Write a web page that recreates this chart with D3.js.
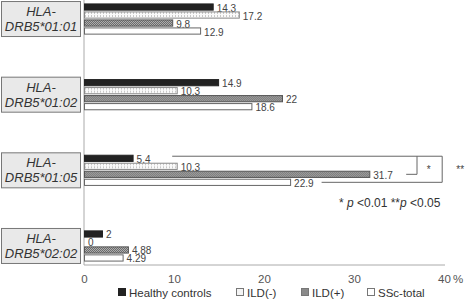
<!DOCTYPE html>
<html>
<head>
<meta charset="utf-8">
<script src="https://cdn.jsdelivr.net/npm/d3@7"></script>
<style>
  body { margin: 0; background: #fff; }
  svg { font-family: "Liberation Sans", Arial, sans-serif; }
  .val { font-size: 10px; fill: #444; }
  .axis text { font-size: 11.5px; fill: #555; }
  .cat { font-size: 13px; font-style: italic; fill: #333; }
  .legend text { font-size: 11.5px; fill: #333; }
</style>
</head>
<body>
<script>
const alleles = ["DRB5*01:01", "DRB5*01:02", "DRB5*01:05", "DRB5*02:02"];
const series = ["Healthy controls", "ILD(-)", "ILD(+)", "SSc-total"];
const healthy = [14.3, 14.9, 5.4, 2];
const ildNeg = [17.2, 10.3, 10.3, 0];
const ildPos = [9.8, 22, 31.7, 4.88];
const sscTotal = [12.9, 18.6, 22.9, 4.29];
const valueLabels = [
  ["14.3", "14.9", "5.4", "2"],
  ["17.2", "10.3", "10.3", "0"],
  ["9.8", "22", "31.7", "4.88"],
  ["12.9", "18.6", "22.9", "4.29"]
];
const ticks = [0, 10, 20, 30, 40];

const width = 469;
const height = 299;

const svg = d3.select("body")
  .append("svg")
  .attr("width", width)
  .attr("height", height);

const defs = svg.append("defs");

// ILD(-): light vertical hatching
const pNeg = defs.append("pattern")
  .attr("id", "p-neg")
  .attr("width", 3).attr("height", 3)
  .attr("patternUnits", "userSpaceOnUse");
pNeg.append("rect").attr("width", 3).attr("height", 3).attr("fill", "#fafafa");
pNeg.append("rect").attr("x", 1).attr("width", 1).attr("height", 2).attr("fill", "#c8c8c8");

// ILD(+): grey dotted texture
const pPos = defs.append("pattern")
  .attr("id", "p-pos")
  .attr("width", 2).attr("height", 2)
  .attr("patternUnits", "userSpaceOnUse");
pPos.append("rect").attr("width", 2).attr("height", 2).attr("fill", "#b0b0b0");
pPos.append("rect").attr("width", 1).attr("height", 1).attr("fill", "#6a6a6a");
pPos.append("rect").attr("x", 1).attr("y", 1).attr("width", 1).attr("height", 1).attr("fill", "#6a6a6a");

const fills = ["#222", "url(#p-neg)", "url(#p-pos)", "#fff"];
const strokes = ["#222", "#888", "#555", "#666"];
const swatchFills = ["#222", "#f4f4f4", "#8a8a8a", "#fff"];

const x = d3.scaleLinear().domain([0, 40]).range([84, 444]);
const y = d3.scaleBand().domain(alleles).range([0, 265])
  .paddingInner(0.577).paddingOuter(0.04);
const yInner = d3.scaleBand().domain(series).range([0, y.bandwidth()])
  .paddingInner(0.1).paddingOuter(0.05);

const values = [healthy, ildNeg, ildPos, sscTotal];

// axis lines
svg.append("line")
  .attr("x1", x(0)).attr("x2", x(0))
  .attr("y1", 0).attr("y2", 265)
  .attr("stroke", "#aaa");
svg.append("line")
  .attr("x1", x(0)).attr("x2", x(40) + 1)
  .attr("y1", 265).attr("y2", 265)
  .attr("stroke", "#aaa");

// bars
const groups = svg.selectAll(".grp")
  .data(alleles)
  .enter()
  .append("g")
  .attr("class", "grp")
  .attr("transform", (d) => `translate(0, ${y(d)})`);

groups.each(function (allele, gi) {
  const g = d3.select(this);
  series.forEach((s, si) => {
    const v = values[si][gi];
    g.append("rect")
      .attr("x", x(0) + 0.5)
      .attr("y", yInner(s) + 0.5)
      .attr("width", Math.max(0, x(v) - x(0)))
      .attr("height", yInner.bandwidth() - 1)
      .attr("fill", fills[si])
      .attr("stroke", strokes[si])
      .attr("stroke-width", 1)
      .style("display", v > 0 ? null : "none");
    g.append("text")
      .attr("class", "val")
      .attr("x", x(v) + 4)
      .attr("y", yInner(s) + yInner.bandwidth() / 2 + 1)
      .attr("dy", "0.35em")
      .text(valueLabels[si][gi]);
  });
});

// category boxes
const cats = svg.selectAll(".catbox")
  .data(alleles)
  .enter()
  .append("g")
  .attr("transform", (d) => `translate(0, ${y(d) + y.bandwidth() / 2})`);
cats.append("rect")
  .attr("x", 1.5).attr("y", -17.5)
  .attr("width", 79).attr("height", 35)
  .attr("fill", "#e9e9e9")
  .attr("stroke", "#777");
cats.append("text")
  .attr("class", "cat")
  .attr("x", 41).attr("y", -3)
  .attr("text-anchor", "middle")
  .text("HLA-");
cats.append("text")
  .attr("class", "cat")
  .attr("x", 41).attr("y", 12)
  .attr("text-anchor", "middle")
  .text((d) => d);

// significance brackets on DRB5*01:05
const g3 = y(alleles[2]);
const yTop = g3 + yInner(series[0]) + 1.5;
const yPos = g3 + yInner(series[2]) + yInner.bandwidth() / 2;
const ySsc = g3 + yInner(series[3]) + yInner.bandwidth() / 2;
const br = svg.append("g").attr("fill", "none").attr("stroke", "#666");
br.append("path")
  .attr("d", `M${x(9.8)},${yTop}H${x(39.8)}V${ySsc}H${x(26.4)}`);
br.append("path")
  .attr("d", `M${x(37)},${yTop}V${yPos}H${x(35.8)}`);
svg.append("text").attr("class", "val")
  .attr("x", x(38.3)).attr("y", yPos - 1).attr("text-anchor", "middle")
  .text("*");
svg.append("text").attr("class", "val")
  .attr("x", x(41.8)).attr("y", yPos - 1).attr("text-anchor", "middle")
  .text("**");

const note = svg.append("text")
  .attr("x", x(39.6)).attr("y", 207)
  .attr("text-anchor", "end")
  .attr("font-size", 12).attr("fill", "#333");
note.append("tspan").text("* ");
note.append("tspan").attr("font-style", "italic").text("p");
note.append("tspan").text(" <0.01 **");
note.append("tspan").attr("font-style", "italic").text("p");
note.append("tspan").text(" <0.05");

// x axis labels
const axis = svg.append("g")
  .attr("class", "axis")
  .attr("transform", "translate(0, 275)")
  .call(d3.axisBottom(x).tickValues(ticks).tickSize(0).tickPadding(0));
axis.select(".domain").remove();
axis.append("text")
  .attr("x", x(40) + 14).attr("y", 0).attr("dy", "0.71em")
  .attr("text-anchor", "middle")
  .text("%");

// legend
const legendX = [118, 236, 301, 367];
const legend = svg.append("g").attr("class", "legend")
  .attr("transform", "translate(0, 297)");
series.forEach((s, i) => {
  legend.append("rect")
    .attr("x", legendX[i] + 0.5).attr("y", -8.5)
    .attr("width", 7).attr("height", 7)
    .attr("fill", swatchFills[i])
    .attr("stroke", i === 0 ? "#222" : "#777");
  legend.append("text")
    .attr("x", legendX[i] + 11).attr("y", 0)
    .text(s);
});
</script>
</body>
</html>
